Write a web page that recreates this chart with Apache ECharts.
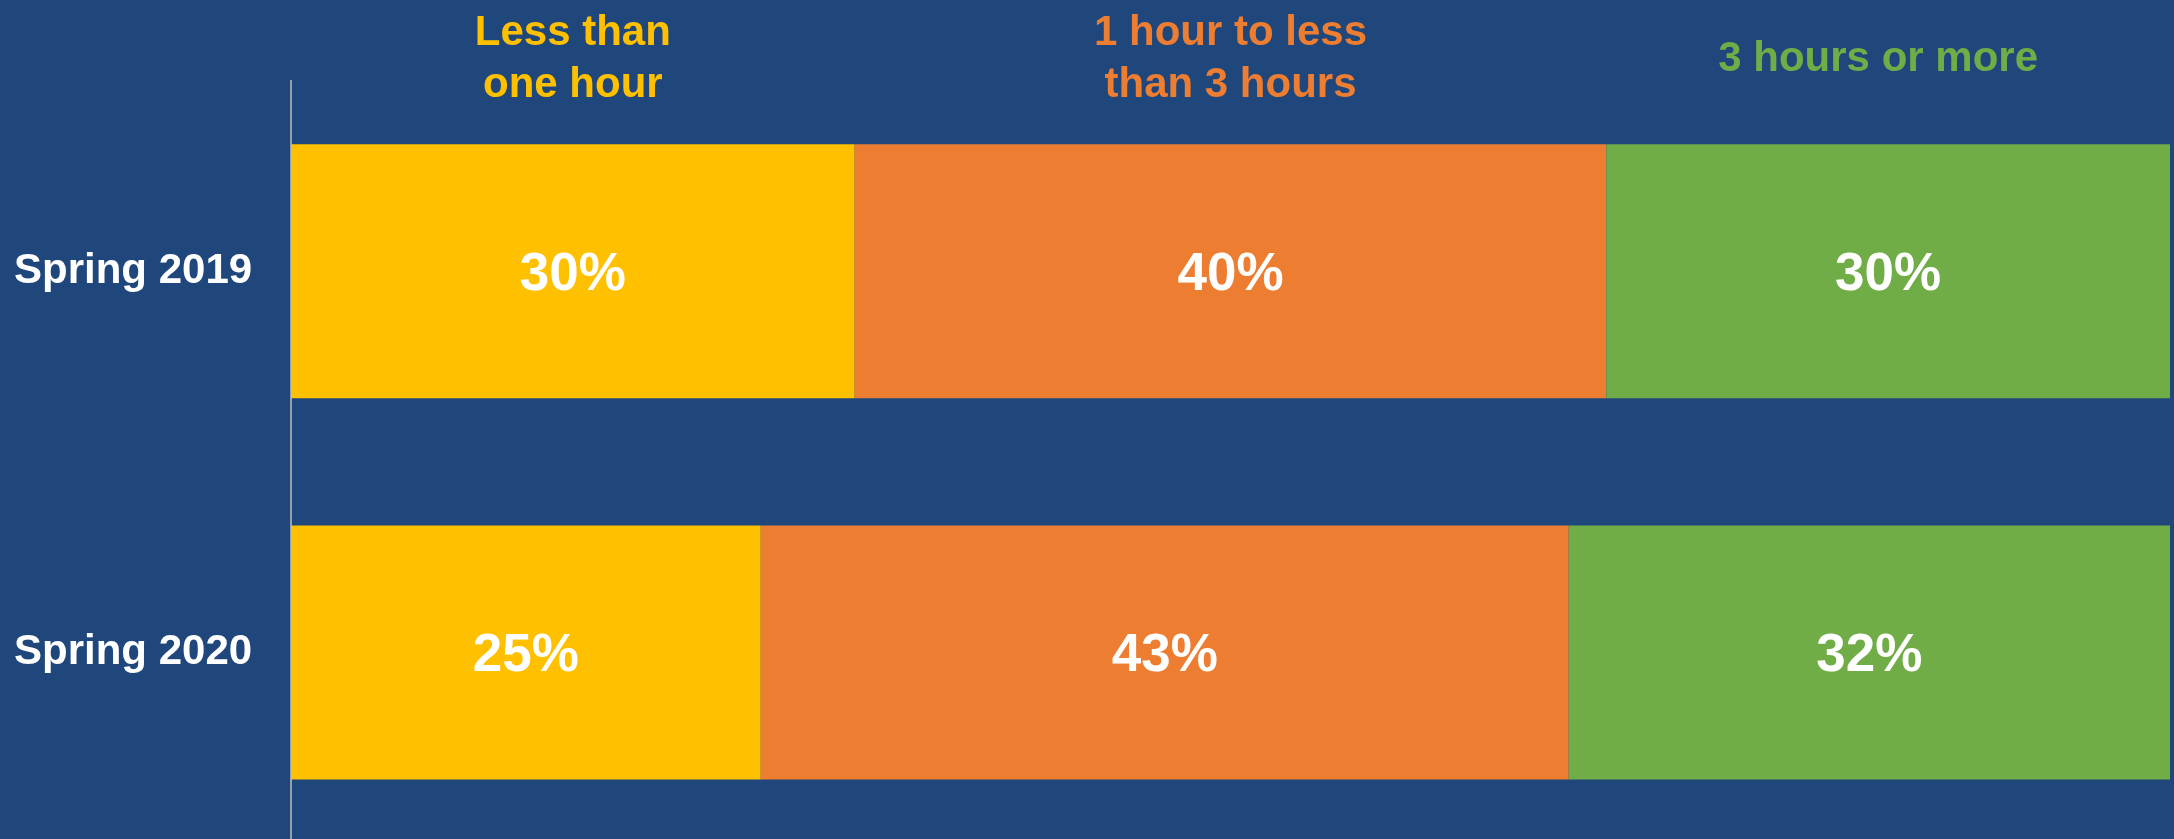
<!DOCTYPE html>
<html>
<head>
<meta charset="utf-8">
<script src="https://cdn.jsdelivr.net/npm/echarts@6/dist/echarts.min.js"></script>
<style>
html,body{margin:0;padding:0;background:#1f477c;overflow:hidden;}
#main{width:2174px;height:850px;}
</style>
</head>
<body>
<div id="main"></div>
<script>
// data
var categories = ["Spring 2019", "Spring 2020"];
var seriesNames = ["Less than\none hour", "1 hour to less\nthan 3 hours", "3 hours or more"];
var lessThanOne = [30, 25];
var oneToThree = [40, 43];
var threeOrMore = [30, 32];
var colors = ["#ffc000", "#ed7d31", "#70ad47"];

var allValues = [lessThanOne, oneToThree, threeOrMore];
var fontFam = "'Liberation Sans', Arial, sans-serif";

var myChart = echarts.init(document.getElementById('main'));

var series = [];
for (var i = 0; i < allValues.length; i++) {
	series.push({
		name: seriesNames[i],
		type: 'bar',
		stack: 'total',
		barWidth: 254,
		itemStyle: { color: colors[i] },
		label: {
			show: true,
			position: 'inside',
			formatter: '{c}%',
			color: '#fff',
			fontSize: 53,
			fontWeight: 'bold',
			fontFamily: fontFam,
			offset: [0, 4]
		},
		data: allValues[i]
	});
}

var option = {
	backgroundColor: '#1f477c',
	animation: false,
	// grid runs a little past the visible window, like the reference
	grid: { left: 291, right: 4, top: 80.5, height: 762.5 },
	xAxis: {
		type: 'value',
		min: 0,
		max: 100,
		show: false
	},
	yAxis: {
		type: 'category',
		inverse: true,
		data: categories,
		axisLine: { show: true, lineStyle: { color: '#bfbfbf', width: 1.5 } },
		axisTick: { show: false },
		axisLabel: {
			color: '#fff',
			fontSize: 42,
			fontWeight: 'bold',
			fontFamily: fontFam,
			align: 'left',
			margin: 277
		}
	},
	series: series
};
myChart.setOption(option);

// column headers over the first row, centred on each segment
var texts = [];
var start = 0;
for (var j = 0; j < allValues.length; j++) {
	var mid = start + allValues[j][0] / 2;
	start += allValues[j][0];
	var px = myChart.convertToPixel({ gridIndex: 0 }, [mid, 0]);
	texts.push({
		type: 'text',
		x: px[0] - (j == 2 ? 10 : 0),
		y: 59,
		style: {
			text: seriesNames[j],
			fill: colors[j],
			font: 'bold 42px ' + fontFam,
			lineHeight: 52,
			align: 'center',
			verticalAlign: 'middle'
		}
	});
}
myChart.setOption({ graphic: texts });
</script>
</body>
</html>
